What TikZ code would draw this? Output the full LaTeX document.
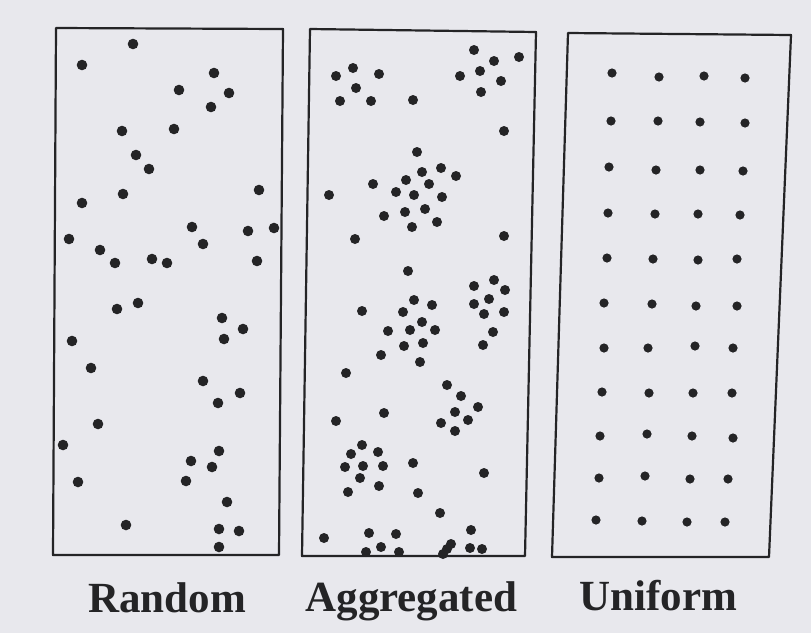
\documentclass[tikz,border=0pt]{standalone}
\usepackage{fontspec}
\setmainfont{Liberation Serif}
\usetikzlibrary{positioning}
\definecolor{paper}{RGB}{232,232,237}
\definecolor{ink}{RGB}{36,36,38}
\tikzset{
    panel/.style={draw=ink, line width=2.2pt, line join=round},
    rdot/.style={fill=ink},
    caption/.style={font=\fontsize{43}{43}\selectfont\bfseries, text=ink,
        anchor=base, inner sep=0pt}
}
\begin{document}
\begin{tikzpicture}[x=1pt, y=-1pt]
    \fill[paper] (0,0) rectangle (811,633);
    \useasboundingbox (0,0) rectangle (811,633);
    % panels
    \draw[panel] (56,28) -- (283,29) -- (279,555) -- (53,555) -- cycle;
    \draw[panel] (310,29) -- (536,32) -- (525,556) -- (302,556) -- cycle;
    \draw[panel] (568,33) -- (791,35) -- (769,557) -- (552,557) -- cycle;
    % random
    \foreach \x/\y in {133/44, 82/65, 214/73, 179/90, 229/93, 211/107, 122/131,
        174/129, 136/155, 149/169, 259/190, 123/194, 82/203, 192/227, 248/231,
        274/228, 69/239, 100/250, 203/244, 115/263, 152/259, 167/263, 257/261,
        117/309, 138/303, 222/318, 243/329, 224/339, 72/341, 91/368, 203/381,
        240/393, 218/403, 98/424, 63/445, 219/451, 191/461, 212/467, 78/482,
        186/481, 227/502, 126/525, 219/529, 239/531, 219/547}
        \fill[rdot] (\x,\y) circle[radius=5.3];
    % aggregated
    \foreach \x/\y in {474/50, 494/61, 519/57, 353/68, 336/76, 379/74, 460/76,
        480/71, 501/81, 356/88, 481/92, 340/101, 371/101, 413/100, 504/131,
        417/152, 422/172, 441/168, 456/176, 406/180, 373/184, 429/184, 329/195,
        396/192, 414/195, 442/197, 425/209, 405/212, 384/216, 437/222, 412/227,
        355/239, 504/236, 408/271, 474/286, 494/280, 505/290,
        414/300, 432/305, 362/311, 403/312, 474/304, 489/299, 484/314, 504/312,
        422/322, 388/331, 410/330, 435/330, 493/332, 404/346, 423/343, 483/345,
        381/355, 420/362, 346/373, 447/385, 461/396, 478/407, 384/413, 455/412,
        336/421, 468/420, 441/423, 455/431, 362/445, 351/454, 378/452, 345/467,
        363/466, 383/466, 413/463, 360/478, 484/473, 379/486, 348/492, 418/493,
        440/513, 324/538, 369/533, 396/534, 471/530, 381/547, 366/552, 399/552,
        451/544, 447/549, 443/554, 470/548, 482/549}
        \fill[rdot] (\x,\y) circle[radius=5];
    % uniform
    \foreach \x/\y in {612/73, 659/77, 704/76, 745/78,
        611/121, 658/121, 700/122, 745/123,
        609/167, 656/170, 700/170, 743/171,
        608/213, 655/214, 698/214, 740/215,
        607/258, 653/259, 698/260, 737/259,
        604/303, 652/304, 696/306, 737/306,
        604/348, 648/348, 695/346, 733/348,
        602/392, 649/393, 693/393, 732/393,
        600/436, 647/434, 692/436, 733/438,
        599/478, 645/476, 690/479, 728/479,
        596/520, 642/521, 687/522, 725/522}
        \fill[rdot] (\x,\y) circle[radius=4.6];
    % captions
    \node[caption] (random) at (167,612.7) {Random};
    \node[caption] (aggregated) at (411.4,611.7) {Aggregated};
    \node[caption] (uniform) at (658.3,610.7) {Uniform};
\end{tikzpicture}
\end{document}
